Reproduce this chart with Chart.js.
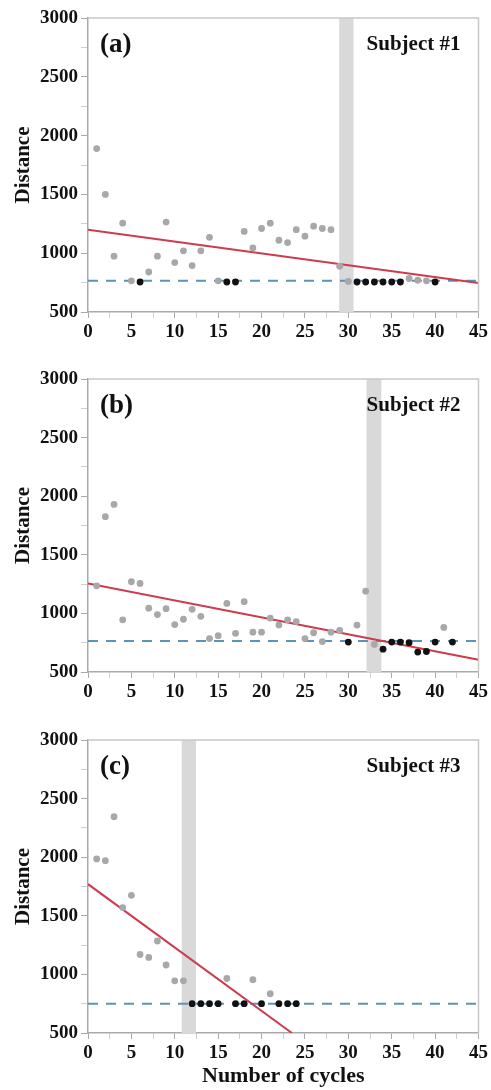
<!DOCTYPE html>
<html>
<head>
<meta charset="utf-8">
<script src="https://cdn.jsdelivr.net/npm/chart.js@4.4.0/dist/chart.umd.min.js"></script>
<style>
body{margin:0;background:#fff;}
#wrap{position:relative;width:491px;height:1090px;}
canvas{position:absolute;left:0;}
</style>
</head>
<body>
<div id="wrap">
<canvas id="grafico1" width="491" height="340" style="top:0"></canvas>
<canvas id="grafico2" width="491" height="360" style="top:340px"></canvas>
<canvas id="grafico3" width="491" height="390" style="top:700px"></canvas>
</div>
<script>
// tick labels
const xTicks = [0, 5, 10, 15, 20, 25, 30, 35, 40, 45];
const yTicks = [500, 1000, 1500, 2000, 2500, 3000];

// subject #1
const cycles1 = [1,2,3,4,5,6,7,8,9,10,11,12,13,14,15,16,17,18,19,20,21,22,23,24,25,26,27,28,29,30,31,32,33,34,35,36,37,38,39,40];
const distance1 = [1890,1500,975,1255,765,755,840,975,1265,920,1020,895,1020,1135,765,755,755,1185,1045,1210,1255,1110,1090,1200,1145,1230,1210,1200,890,760,755,755,755,755,755,755,785,770,765,755];
const reached1 = [0,0,0,0,0,1,0,0,0,0,0,0,0,0,0,1,1,0,0,0,0,0,0,0,0,0,0,0,0,0,1,1,1,1,1,1,0,0,0,1];
const fitX1 = [0, 45];
const fitY1 = [1200, 747];
const band1 = [28.95, 30.6];

// subject #2
const cycles2 = [1,2,3,4,5,6,7,8,9,10,11,12,13,14,15,16,17,18,19,20,21,22,23,24,25,26,27,28,29,30,31,32,33,34,35,36,37,38,39,40,41,42];
const distance2 = [1235,1825,1930,945,1270,1255,1045,990,1040,905,950,1035,975,785,810,1085,830,1100,840,840,960,900,945,930,785,835,760,840,855,755,900,1190,735,695,755,755,750,670,675,755,880,755];
const reached2 = [0,0,0,0,0,0,0,0,0,0,0,0,0,0,0,0,0,0,0,0,0,0,0,0,0,0,0,0,0,1,0,0,0,1,1,1,1,1,1,1,0,1];
const fitX2 = [0, 45];
const fitY2 = [1255, 605];
const band2 = [32.1, 33.8];

// subject #3
const cycles3 = [1,2,3,4,5,6,7,8,9,10,11,12,13,14,15,16,17,18,19,20,21,22,23,24];
const distance3 = [1985,1970,2345,1570,1675,1170,1145,1285,1080,945,945,750,750,750,750,965,750,750,955,750,835,750,750,750];
const reached3 = [0,0,0,0,0,0,0,0,0,0,0,1,1,1,1,0,1,1,0,1,0,1,1,1];
const fitX3 = [0, 23.5];
const fitY3 = [1770, 500];
const band3 = [10.8, 12.45];

const targets = [765, 765, 750];

const SERIF = "'Liberation Serif', 'Times New Roman', serif";

const extras = {
    id: 'extras',
    beforeDatasetsDraw(chart, args, o){
        const {ctx, chartArea: a, scales: {x}} = chart;
        const x0 = x.getPixelForValue(o.band[0]);
        const x1 = x.getPixelForValue(o.band[1]);
        ctx.save();
        ctx.fillStyle = '#d9d9d9';
        ctx.fillRect(x0, a.top, x1 - x0, a.bottom - a.top);
        ctx.restore();
    },
    afterDraw(chart, args, o){
        const {ctx, chartArea: a} = chart;
        ctx.save();
        // frame top / right
        ctx.strokeStyle = '#c8c8c8';
        ctx.lineWidth = 1.5;
        ctx.beginPath();
        ctx.moveTo(a.left, a.top);
        ctx.lineTo(a.right, a.top);
        ctx.lineTo(a.right, a.bottom);
        ctx.stroke();
        ctx.fillStyle = '#111';
        ctx.textBaseline = 'middle';
        ctx.font = 'bold 27px ' + SERIF;
        ctx.textAlign = 'left';
        ctx.fillText(o.letter, a.left + 12, a.top + 27);
        ctx.font = 'bold 21px ' + SERIF;
        ctx.textAlign = 'right';
        ctx.fillText(o.subject, a.right - 18, a.top + 27);
        ctx.restore();
    }
};

function drawPanel(id, cycles, distance, reached, fitX, fitY, target, band, letter, subject, padTop, xHeight, showTitle){
    const gray = [], black = [];
    cycles.forEach(function(c, i){
        (reached[i] ? black : gray).push({x: c, y: distance[i]});
    });
    new Chart(document.getElementById(id), {
        type: 'scatter',
        data: {
            datasets: [
                {data: black, backgroundColor: '#111', borderWidth: 0, pointRadius: 3.4},
                {data: gray, backgroundColor: '#a8a8a8', borderWidth: 0, pointRadius: 3.4},
                {type: 'line', data: fitX.map((v, i) => ({x: v, y: fitY[i]})), borderColor: '#cc3b4e', borderWidth: 2, pointRadius: 0},
                {type: 'line', data: [{x: 0, y: target}, {x: 45, y: target}], borderColor: '#5b93bb', borderWidth: 2, borderDash: [10, 8], pointRadius: 0}
            ]
        },
        options: {
            responsive: false,
            animation: false,
            layout: {padding: {top: padTop, right: 10, left: 0, bottom: 0}},
            plugins: {
                legend: {display: false},
                tooltip: {enabled: false},
                extras: {band: band, letter: letter, subject: subject}
            },
            scales: {
                x: {
                    type: 'linear', min: 0, max: 45,
                    afterFit: function(s){ s.height = xHeight; },
                    border: {color: '#aaa', width: 1.5},
                    grid: {drawOnChartArea: false, tickLength: 6,
                        tickColor: c => xTicks.includes(c.tick.value) ? '#aaa' : '#d0d0d0'},
                    ticks: {stepSize: 2.5, autoSkip: false, maxRotation: 0, padding: 3, color: '#111',
                        font: {family: SERIF, size: 19, weight: 'bold'},
                        callback: v => xTicks.includes(v) ? v : ''},
                    title: {display: showTitle, text: 'Number of cycles', color: '#111', padding: 0,
                        font: {family: SERIF, size: 22, weight: 'bold'}}
                },
                y: {
                    min: 500, max: 3000,
                    afterFit: function(s){ s.width = 88; },
                    border: {color: '#aaa', width: 1.5},
                    grid: {drawOnChartArea: false, tickLength: 7,
                        tickColor: c => yTicks.includes(c.tick.value) ? '#aaa' : '#d0d0d0'},
                    ticks: {stepSize: 250, autoSkip: false, padding: 3, color: '#111',
                        font: {family: SERIF, size: 19, weight: 'bold'},
                        callback: v => yTicks.includes(v) ? v : ''},
                    title: {display: true, text: 'Distance', color: '#111', padding: {top: 11},
                        font: {family: SERIF, size: 21, weight: 'bold'}}
                }
            }
        },
        plugins: [extras]
    });
}

drawPanel('grafico1', cycles1, distance1, reached1, fitX1, fitY1, targets[0], band1, '(a)', 'Subject #1', 18, 28, false);
drawPanel('grafico2', cycles2, distance2, reached2, fitX2, fitY2, targets[1], band2, '(b)', 'Subject #2', 39, 28, false);
drawPanel('grafico3', cycles3, distance3, reached3, fitX3, fitY3, targets[2], band3, '(c)', 'Subject #3', 40, 57, true);
</script>
</body>
</html>
